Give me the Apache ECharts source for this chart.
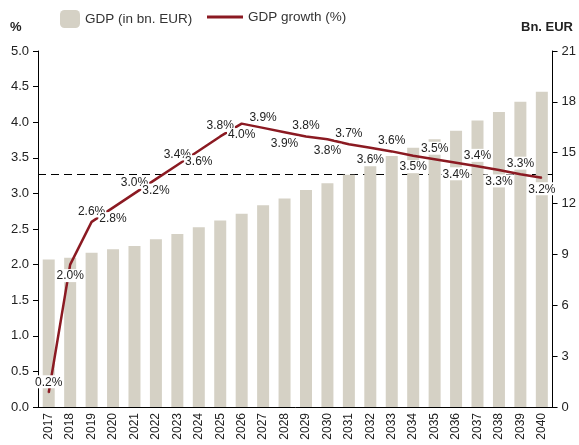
<!DOCTYPE html>
<html>
<head>
<meta charset="utf-8">
<script src="https://cdn.jsdelivr.net/npm/echarts@6/dist/echarts.min.js"></script>
<style>
  html, body { margin: 0; padding: 0; background: #fff; }
  #main { width: 579px; height: 445px; }
</style>
</head>
<body>
<div id="main"></div>
<script>
var years = ['2017', '2018', '2019', '2020', '2021', '2022', '2023', '2024', '2025', '2026', '2027', '2028',
             '2029', '2030', '2031', '2032', '2033', '2034', '2035', '2036', '2037', '2038', '2039', '2040'];
// GDP in bn. EUR (right axis)
var gdp = [8.7, 8.8, 9.1, 9.3, 9.5, 9.9, 10.2, 10.6, 11.0, 11.4, 11.9, 12.3,
           12.8, 13.2, 13.7, 14.2, 14.8, 15.3, 15.8, 16.3, 16.9, 17.4, 18.0, 18.6];
// GDP growth in % (left axis), labels show one decimal
var growth = [0.2, 2.0, 2.6, 2.8, 3.0, 3.2, 3.4, 3.6, 3.8, 3.98, 3.92, 3.86,
              3.80, 3.76, 3.69, 3.64, 3.59, 3.53, 3.48, 3.43, 3.38, 3.33, 3.27, 3.22];
var pctTicks = [0, 5, 0.5];
var eurTicks = [0, 21, 3];

var barColor = '#d5d1c5';
var lineColor = '#8b1a22';
var font = 'Liberation Sans, Arial, sans-serif';

var chart = echarts.init(document.getElementById('main'));

// labels alternate above / below the line
var growthData = growth.map(function (v, i) {
    return { value: v, label: { position: i % 2 === 0 ? 'top' : 'bottom' } };
});

chart.setOption({
    animation: false,
    backgroundColor: '#fff',
    textStyle: { fontFamily: font },
    legend: [{
        data: ['GDP (in bn. EUR)'],
        left: 55, top: 5,
        itemWidth: 20, itemHeight: 18,
        textStyle: { fontSize: 13.5, color: '#333', fontFamily: font }
    }, {
        data: [{ name: 'GDP growth (%)', icon: 'rect' }],
        left: 202, top: 5,
        itemWidth: 36, itemHeight: 3,
        textStyle: { fontSize: 13.5, color: '#333', fontFamily: font }
    }],
    graphic: [
        { type: 'text', left: 10, top: 21, style: { text: '%', font: 'bold 13px ' + font, fill: '#222' } },
        { type: 'text', right: 6, top: 21, style: { text: 'Bn. EUR', font: 'bold 13px ' + font, fill: '#222' } }
    ],
    grid: { left: 38, right: 23, top: 51, bottom: 38 },
    xAxis: {
        type: 'category',
        data: years,
        axisLine: { lineStyle: { color: '#000', width: 1 } },
        axisTick: { show: false },
        axisLabel: { rotate: 90, fontSize: 12, color: '#222', margin: 6 }
    },
    yAxis: [{
        type: 'value',
        min: pctTicks[0], max: pctTicks[1], interval: pctTicks[2],
        splitLine: { show: false },
        axisLine: { show: true, lineStyle: { color: '#000' } },
        axisTick: { show: true, length: 5, lineStyle: { color: '#000' } },
        axisLabel: { fontSize: 13, color: '#222', margin: 9, formatter: function (v) { return v.toFixed(1); } }
    }, {
        type: 'value',
        min: eurTicks[0], max: eurTicks[1], interval: eurTicks[2],
        splitLine: { show: false },
        axisLine: { show: true, lineStyle: { color: '#000' } },
        axisTick: { show: true, length: 5, lineStyle: { color: '#000' } },
        axisLabel: { fontSize: 13, color: '#222', margin: 9 }
    }],
    series: [{
        name: 'GDP (in bn. EUR)',
        type: 'bar',
        yAxisIndex: 1,
        data: gdp,
        barWidth: 12,
        itemStyle: { color: barColor }
    }, {
        name: 'GDP growth (%)',
        type: 'line',
        yAxisIndex: 0,
        data: growthData,
        symbol: 'circle',
        symbolSize: 1,
        lineStyle: { color: lineColor, width: 2.5 },
        itemStyle: { color: lineColor },
        label: {
            show: true,
            fontSize: 12,
            color: '#222',
            backgroundColor: '#fff',
            padding: [1, 1, 0, 1],
            distance: 4,
            formatter: function (p) { return p.value.toFixed(1) + '%'; }
        },
        markLine: {
            silent: true,
            symbol: 'none',
            label: { show: false },
            lineStyle: { color: '#000', type: [8, 5], width: 1 },
            data: [{ type: 'average' }],
            z: 1
        },
        z: 3
    }]
});
</script>
</body>
</html>
